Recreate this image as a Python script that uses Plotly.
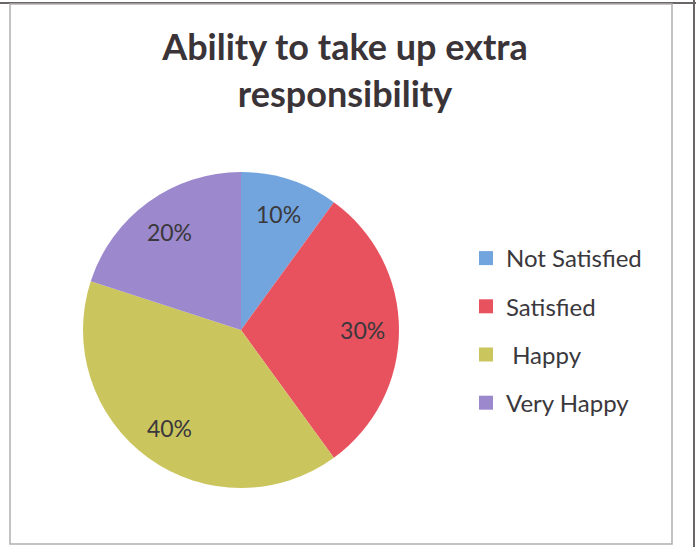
import plotly.graph_objects as go

# Survey responses: ability to take up extra responsibility
categories = ["Not Satisfied", "Satisfied", "Happy", "Very Happy"]
shares = [10, 30, 40, 20]
colors = ["#72a5dd", "#e8525f", "#cbc55e", "#9c88cc"]

W, H = 696, 547
FONT = "Lato, 'Open Sans', sans-serif"
TEXT = "#3a383c"

def px_x(p):
    return p / W

def px_y(p):
    return 1 - p / H

pie_domain = dict(x=[px_x(83), px_x(399)], y=[px_y(488), px_y(172)])

fig = go.Figure()

# Filled slices, first slice starting at 12 o'clock and running clockwise
fig.add_trace(go.Pie(
    labels=categories,
    values=shares,
    sort=False,
    direction="clockwise",
    rotation=0,
    marker=dict(colors=colors, line=dict(width=0)),
    textinfo="none",
    hoverinfo="label+percent",
    showlegend=False,
    domain=pie_domain,
))

# Transparent ring carrying the percentage labels, placed toward the rim
fig.add_trace(go.Pie(
    labels=categories,
    values=shares,
    sort=False,
    direction="clockwise",
    rotation=0,
    hole=0.54,
    marker=dict(colors=["rgba(0,0,0,0)"] * len(categories), line=dict(width=0)),
    textinfo="percent",
    texttemplate="%{percent:.0%}",
    textposition="inside",
    insidetextorientation="horizontal",
    insidetextfont=dict(family=FONT, size=23, color=TEXT),
    hoverinfo="skip",
    showlegend=False,
    domain=pie_domain,
))

# Legend entries, one group per category so the rows are spaced apart
for name, col in zip(categories, colors):
    fig.add_trace(go.Scatter(
        x=[None], y=[None],
        mode="markers",
        name=(" " + name) if name == "Happy" else name,
        legendgroup=name,
        marker=dict(symbol="square", size=14, color=col),
        hoverinfo="skip",
    ))

fig.update_layout(
    width=W,
    height=H,
    margin=dict(l=0, r=0, t=0, b=0),
    paper_bgcolor="white",
    plot_bgcolor="white",
    font=dict(family=FONT, color=TEXT),
    title=dict(
        text="<b>Ability to take up extra<br>responsibility</b>",
        x=px_x(345),
        xanchor="center",
        y=px_y(60),
        yanchor="top",
        font=dict(family=FONT, size=36, color="#3a3438"),
    ),
    xaxis=dict(visible=False),
    yaxis=dict(visible=False),
    legend=dict(
        x=px_x(466),
        y=px_y(236),
        xanchor="left",
        yanchor="top",
        traceorder="grouped",
        tracegroupgap=14,
        font=dict(family=FONT, size=24, color=TEXT),
        bgcolor="rgba(0,0,0,0)",
        itemclick=False,
    ),
    shapes=[
        # outer frame edges
        dict(type="line", xref="paper", yref="paper", x0=0, x1=1,
             y0=px_y(3), y1=px_y(3), line=dict(color="#6a6668", width=2)),
        dict(type="line", xref="paper", yref="paper", x0=px_x(694), x1=px_x(694),
             y0=0, y1=1, line=dict(color="#6a6668", width=2)),
        # chart area border
        dict(type="rect", xref="paper", yref="paper",
             x0=px_x(10), x1=px_x(672), y0=px_y(544), y1=px_y(4),
             line=dict(color="#b3aeb2", width=1.5)),
    ],
)

fig.write_html("out.html")
